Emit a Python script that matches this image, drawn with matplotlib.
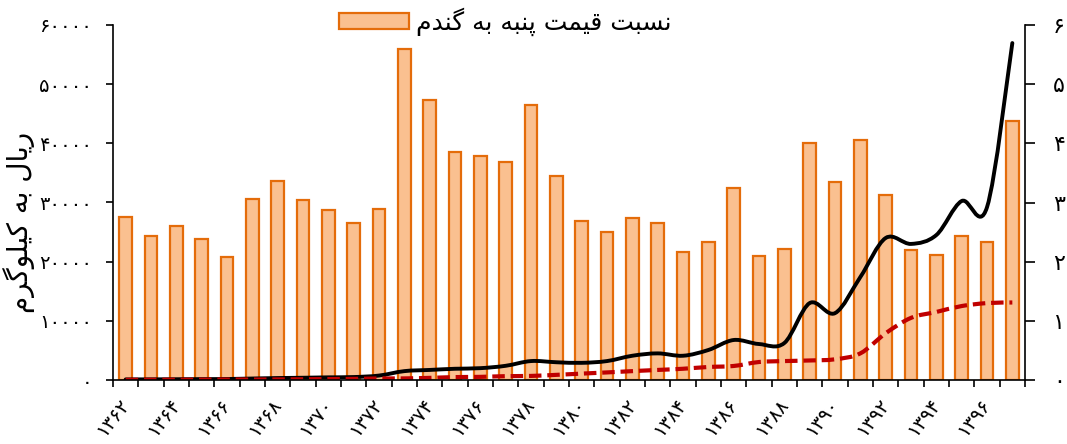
import numpy as np
import matplotlib
matplotlib.use("Agg")
import matplotlib.pyplot as plt
import matplotlib.transforms as mtransforms
from matplotlib.path import Path
from matplotlib.patches import PathPatch

# ---------------- data ----------------
years = list(range(1362, 1398))
ratio = [2.76, 2.43, 2.61, 2.39, 2.08, 3.06, 3.37, 3.05, 2.87, 2.66,
         2.89, 5.59, 4.74, 3.86, 3.79, 3.69, 4.64, 3.44, 2.68, 2.50,
         2.74, 2.65, 2.16, 2.34, 3.24, 2.09, 2.22, 4.01, 3.35, 4.06,
         3.13, 2.19, 2.12, 2.43, 2.33, 4.37]
cotton = [100, 110, 130, 150, 170, 250, 330, 380, 450, 500,
          750, 1500, 1700, 1900, 2000, 2400, 3200, 3000, 2900, 3200,
          4100, 4500, 4100, 5070, 6760, 6080, 6250, 13000, 11300, 17400,
          24000, 23000, 24500, 30250, 29200, 56950]
wheat = [36, 45, 50, 63, 82, 82, 98, 125, 157, 187,
         260, 270, 360, 490, 530, 650, 690, 870, 1080, 1280,
         1500, 1700, 1900, 2200, 2370, 3040, 3200, 3300, 3500, 4500,
         7900, 10500, 11500, 12500, 13000, 13100]
legend_label = "نسبت قیمت پنبه به گندم"
ylabel_text = "ریال به کیلوگرم"
left_ticks = [0, 10000, 20000, 30000, 40000, 50000, 60000]
right_ticks = [0, 1, 2, 3, 4, 5, 6]

# ------------- Persian text helpers (shaping for display) -------------
FORMS = {
    'ا': ('\uFE8D', '\uFE8E', None, None),
    'ب': ('\uFE8F', '\uFE90', '\uFE91', '\uFE92'),
    'پ': ('\uFB56', '\uFB57', '\uFB58', '\uFB59'),
    'ت': ('\uFE95', '\uFE96', '\uFE97', '\uFE98'),
    'د': ('\uFEA9', '\uFEAA', None, None),
    'ر': ('\uFEAD', '\uFEAE', None, None),
    'س': ('\uFEB1', '\uFEB2', '\uFEB3', '\uFEB4'),
    'ق': ('\uFED5', '\uFED6', '\uFED7', '\uFED8'),
    'ک': ('\uFB8E', '\uFB8F', '\uFB90', '\uFB91'),
    'گ': ('\uFB92', '\uFB93', '\uFB94', '\uFB95'),
    'ل': ('\uFEDD', '\uFEDE', '\uFEDF', '\uFEE0'),
    'م': ('\uFEE1', '\uFEE2', '\uFEE3', '\uFEE4'),
    'ن': ('\uFEE5', '\uFEE6', '\uFEE7', '\uFEE8'),
    'ه': ('\uFEE9', '\uFEEA', '\uFEEB', '\uFEEC'),
    'و': ('\uFEED', '\uFEEE', None, None),
    'ی': ('\uFBFC', '\uFBFD', '\uFBFE', '\uFBFF'),
}


def shape(text):
    out = []
    n = len(text)
    for i, ch in enumerate(text):
        if ch not in FORMS:
            out.append(ch)
            continue
        f = FORMS[ch]
        prev = text[i - 1] if i > 0 else ''
        nxt = text[i + 1] if i + 1 < n else ''
        jp = prev in FORMS and FORMS[prev][2] is not None
        jn = f[2] is not None and nxt in FORMS
        if jp and jn:
            out.append(f[3])
        elif jp:
            out.append(f[1])
        elif jn:
            out.append(f[2])
        else:
            out.append(f[0])
    return ''.join(out)[::-1]


FA_DIGITS = str.maketrans('0123456789', '۰۱۲۳۴۵۶۷۸۹')


def fa(num):
    return str(num).translate(FA_DIGITS)


def smooth_path(xs, ys):
    pts = np.column_stack([xs, ys]).astype(float)
    n = len(pts)
    verts = [pts[0]]
    codes = [Path.MOVETO]
    for i in range(n - 1):
        p0 = pts[i - 1] if i > 0 else pts[i]
        p1 = pts[i]
        p2 = pts[i + 1]
        p3 = pts[i + 2] if i + 2 < n else pts[i + 1]
        verts += [p1 + (p2 - p0) / 6.0, p2 - (p3 - p1) / 6.0, p2]
        codes += [Path.CURVE4] * 3
    return Path(verts, codes)


plt.rcParams['font.family'] = ['DejaVu Sans']

fig = plt.figure(figsize=(10.67, 4.44), dpi=100)
ax = fig.add_axes([113 / 1067, 64 / 444, 912 / 1067, 355 / 444])
ax2 = ax.twinx()

x = np.arange(len(years))
ax2.bar(x, ratio, width=0.5, color='#FAC090', edgecolor='#E46C0A',
        linewidth=1.6, label=shape(legend_label))

ax.set_zorder(ax2.get_zorder() + 1)
ax.patch.set_visible(False)

ax.add_patch(PathPatch(smooth_path(x, cotton), fill=False, edgecolor='black',
                       linewidth=2.8, capstyle='round', joinstyle='round'))
ax.add_patch(PathPatch(smooth_path(x, wheat), fill=False, edgecolor='#C00000',
                       linewidth=3.0, linestyle=(0, (3, 1.4))))

ax.set_xlim(-0.5, len(years) - 0.5)
ax.set_ylim(0, 60000)
ax2.set_ylim(0, 6)

for a in (ax, ax2):
    a.spines['top'].set_visible(False)
ax.spines['right'].set_visible(False)
ax2.spines['left'].set_visible(False)
ax2.spines['bottom'].set_visible(False)

ax.set_yticks(left_ticks)
ax.set_yticklabels([fa(v) for v in left_ticks], fontsize=14)
ax.tick_params(axis='y', direction='out', length=5, width=1.2, pad=10)

ax2.set_yticks(right_ticks)
ax2.set_yticklabels([fa(v) for v in right_ticks], fontsize=16)
ax2.tick_params(axis='y', direction='out', length=7, width=1.2, pad=13)

ax.set_xticks(x[::2])
ax.set_xticklabels([fa(y) for y in years[::2]], fontsize=14, rotation=52,
                   ha='right', va='center', rotation_mode='anchor')
offset = mtransforms.ScaledTranslation(4 / 100, 0, fig.dpi_scale_trans)
for lbl in ax.get_xticklabels():
    lbl.set_transform(lbl.get_transform() + offset)
ax.set_xticks(np.arange(-0.5, len(years), 1.0), minor=True)
ax.tick_params(axis='x', which='major', length=0, pad=15)
ax.tick_params(axis='x', which='minor', direction='out', length=5, width=1.2)

for s in ('left', 'bottom'):
    ax.spines[s].set_linewidth(1.2)
ax2.spines['right'].set_linewidth(1.2)

ax.set_ylabel(shape(ylabel_text), fontsize=20)
ax.yaxis.set_label_coords(-0.085, 0.445)

fig.legend(loc='center', bbox_to_anchor=(505 / 1067, 1 - 22 / 444),
           frameon=False, fontsize=18, handlelength=2.8, handleheight=0.6,
           handletextpad=0.3, borderpad=0)

fig.savefig('out.png', dpi=100)
